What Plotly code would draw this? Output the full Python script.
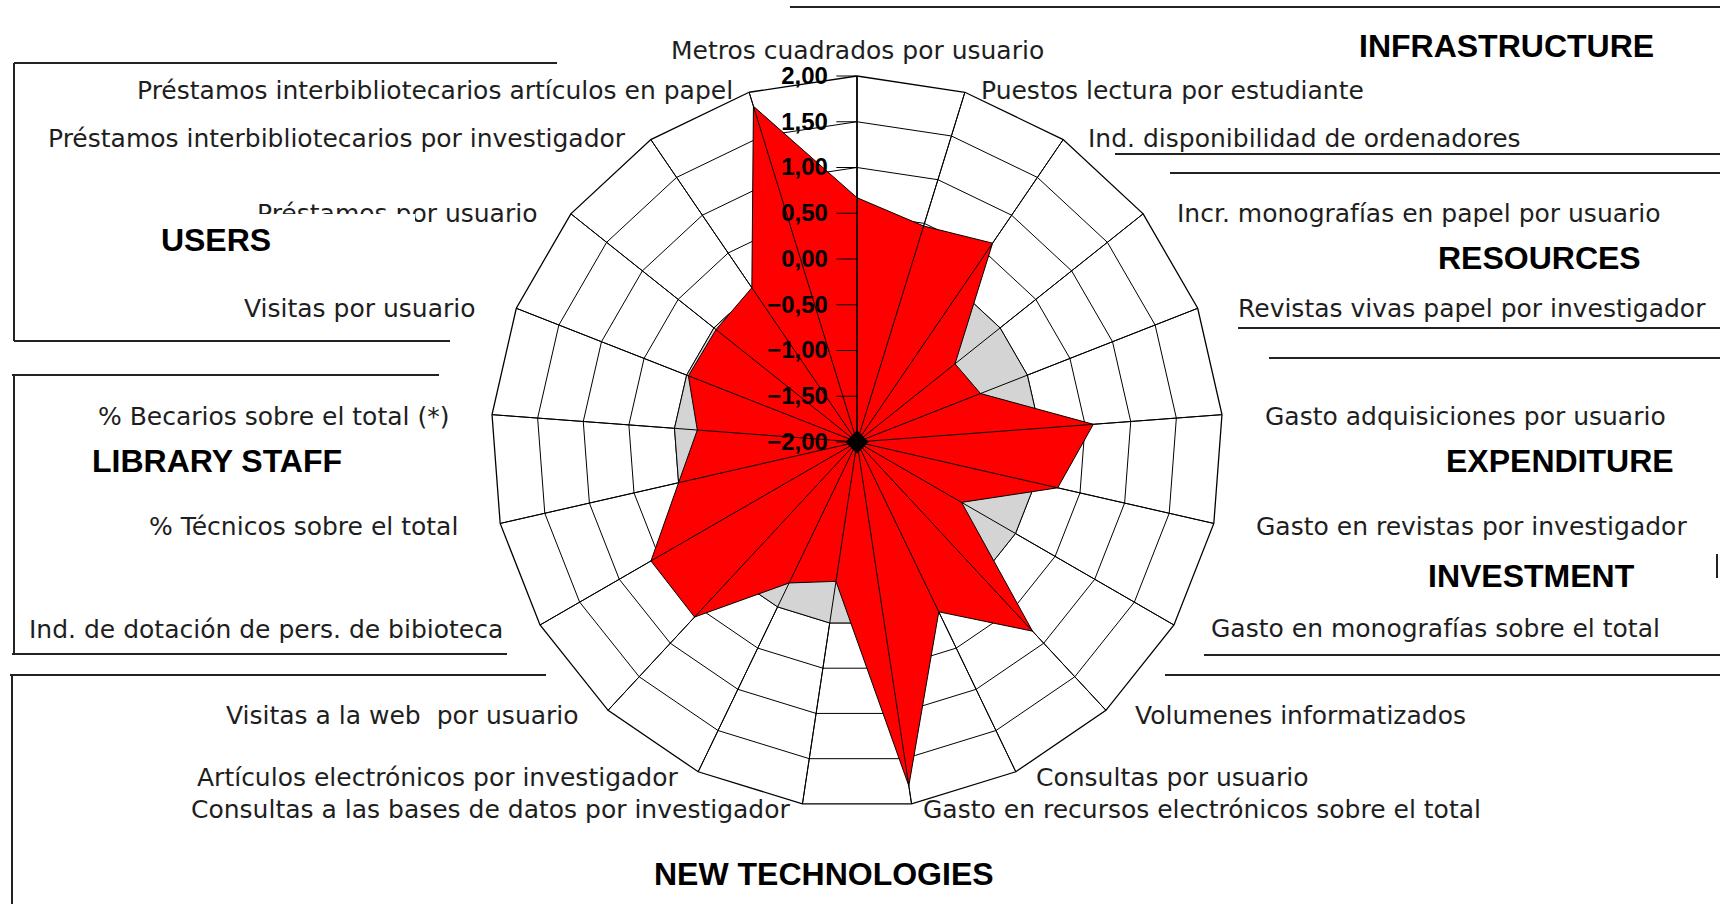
import math
import plotly.graph_objects as go

# ---------------- data ----------------
categories = [
    "Metros cuadrados por usuario",
    "Puestos lectura por estudiante",
    "Ind. disponibilidad de ordenadores",
    "Incr. monografías en papel por usuario",
    "Revistas vivas papel por investigador",
    "Gasto adquisiciones por usuario",
    "Gasto en revistas por investigador",
    "Gasto en monografías sobre el total",
    "Volumenes informatizados",
    "Consultas por usuario",
    "Gasto en recursos electrónicos sobre el total",
    "Consultas a las bases de datos por investigador",
    "Artículos electrónicos por investigador",
    "Visitas a la web  por usuario",
    "Ind. de dotación de pers. de bibioteca",
    "% Técnicos sobre el total",
    "% Becarios sobre el total (*)",
    "Visitas por usuario",
    "Préstamos por usuario",
    "Préstamos interbibliotecarios por investigador",
    "Préstamos interbibliotecarios artículos en papel",
]
library_values = [0.67, 0.47, 0.63, -0.63, -0.55, 0.59, 0.25, -0.68, 0.82, 0.06,
                  1.80, -0.46, -0.29, 0.61, 0.60, 0.00, -0.25, -0.02, -0.03, 0.04, 1.84]
reference_values = [0.0, 0.0, 0.0, 0.0, 0.0, 0.0, 0.0, 0.0, 0.0, 0.0, 0.0,
                    0.0, 0.0, 0.0, 0.0, 0.0, 0.0, 0.0, 0.0, 0.0, 0.0]
radial_ticks = [-2.0, -1.5, -1.0, -0.5, 0.0, 0.5, 1.0, 1.5, 2.0]
section_titles = ["INFRASTRUCTURE", "RESOURCES", "EXPENDITURE", "INVESTMENT",
                  "USERS", "LIBRARY STAFF", "NEW TECHNOLOGIES"]

# ---------------- geometry helpers ----------------
W, H = 1720, 904
CX, CY, R = 857, 442, 366          # polar centre / radius in pixels
LRX, LRY = 390, 370                # label placement ellipse


def px(x):
    return x / W


def py(y):
    return 1 - y / H


theta_closed = categories + categories[:1]

fig = go.Figure()

# reference (zero) polygon, dotted-grey area
ref_kwargs = dict(
    r=reference_values + reference_values[:1], theta=theta_closed,
    mode="lines", fill="toself",
    line=dict(color="black", width=1),
    subplot="polar", showlegend=False, hoverinfo="skip",
)
try:
    ref_trace = go.Scatterpolar(
        fillpattern=dict(shape=".", fgcolor="#333333", bgcolor="rgba(255,255,255,0)",
                         size=6, solidity=0.3),
        fillcolor="rgba(255,255,255,0)", **ref_kwargs)
except Exception:
    ref_trace = go.Scatterpolar(fillcolor="#d4d4d4", **ref_kwargs)
fig.add_trace(ref_trace)

# library series
fig.add_trace(go.Scatterpolar(
    r=library_values + library_values[:1], theta=theta_closed,
    mode="lines", fill="toself", fillcolor="#ff0000",
    line=dict(color="black", width=1),
    subplot="polar", showlegend=False,
))

# spokes drawn over the fill
sp_r, sp_t = [], []
for c in categories:
    sp_r += [radial_ticks[0], radial_ticks[-1], None]
    sp_t += [c, c, None]
fig.add_trace(go.Scatterpolar(
    r=sp_r, theta=sp_t, mode="lines", line=dict(color="black", width=1),
    subplot="polar", showlegend=False, hoverinfo="skip", connectgaps=False,
))

# centre marker on overlay subplot
fig.add_trace(go.Scatterpolar(
    r=[radial_ticks[0]], theta=[categories[0]], mode="markers",
    marker=dict(symbol="diamond", size=18, color="black"),
    subplot="polar2", showlegend=False, hoverinfo="skip",
))

dom_x = [px(CX - R), px(CX + R)]
dom_y = [py(CY + R), py(CY - R)]

fig.update_layout(
    width=W, height=H,
    margin=dict(l=0, r=0, t=0, b=0),
    paper_bgcolor="white",
    separators=",.",
    polar=dict(
        domain=dict(x=dom_x, y=dom_y),
        bgcolor="white",
        gridshape="linear",
        angularaxis=dict(
            type="category", categoryarray=categories,
            rotation=90, direction="clockwise",
            showline=True, linecolor="black", linewidth=1.3,
            gridcolor="black", gridwidth=1.3, ticks="",
            showticklabels=False,
        ),
        radialaxis=dict(
            range=[radial_ticks[0], radial_ticks[-1]], tickvals=radial_ticks,
            showticklabels=False, ticks="", showline=False,
            gridcolor="black", gridwidth=1.3, angle=90,
        ),
    ),
    polar2=dict(
        domain=dict(x=dom_x, y=dom_y),
        bgcolor="rgba(0,0,0,0)",
        angularaxis=dict(
            type="category", categoryarray=categories,
            rotation=90, direction="clockwise",
            visible=False,
        ),
        radialaxis=dict(
            range=[radial_ticks[0], radial_ticks[-1]], tickvals=radial_ticks,
            tickformat=".2f", angle=90, side="counterclockwise",
            layer="above traces",
            showgrid=False, showline=True, linecolor="black", linewidth=1.3,
            ticks="outside", ticklen=20, tickcolor="black", tickwidth=1.3,
            tickangle=90,
            tickfont=dict(family="Liberation Sans", size=24, color="black", weight="bold"),
        ),
    ),
)

# category labels placed around the web
label_font = dict(family="DejaVu Sans", size=25, color="#1e1e1e")
n = len(categories)
for i, lab in enumerate(categories):
    th = math.radians(i * 360.0 / n)
    s, c = math.sin(th), math.cos(th)
    if abs(s) < 1e-6:
        fig.add_annotation(text=lab, x=px(CX), y=py(CY - R - 9),
                           xref="paper", yref="paper", showarrow=False,
                           xanchor="center", yanchor="bottom", font=label_font)
    else:
        gap = 6 + 11 * s * s
        x = CX + LRX * s + (gap if s > 0 else -gap)
        y = CY + 2 - LRY * c
        fig.add_annotation(text=lab, x=px(x), y=py(y),
                           xref="paper", yref="paper", showarrow=False,
                           xanchor="left" if s > 0 else "right", yanchor="middle",
                           font=label_font)

# section frames (decorative lines)
frame_lines = [
    (790, 7, 1720, 7),
    (1115, 154, 1720, 154), (1170, 173, 1720, 173),
    (1238, 328, 1720, 328), (1269, 358, 1720, 358),
    (1204, 655, 1720, 655), (1165, 675, 1720, 675),
    (1717, 554, 1717, 578),
    # USERS box
    (14, 63, 557, 63), (14, 63, 14, 341), (14, 341, 450, 341),
    # LIBRARY STAFF box
    (12, 375, 439, 375), (14, 375, 14, 654), (12, 654, 507, 654),
    # NEW TECHNOLOGIES box
    (10, 675, 546, 675), (12, 675, 12, 904),
]
for x0, y0, x1, y1 in frame_lines:
    fig.add_shape(type="line", xref="paper", yref="paper",
                  x0=px(x0), y0=py(y0), x1=px(x1), y1=py(y1),
                  line=dict(color="#222222", width=2), layer="above")

# section titles (USERS has an opaque white box that hides part of a label)
title_pos = [(1506, 46), (1539, 258), (1560, 461), (1531, 576),
             (216, 240), (217, 461), (824, 874)]
title_font = dict(family="Liberation Sans", size=32, color="black", weight="bold")
for t, (x, y) in zip(section_titles, title_pos):
    extra = {}
    if t == "USERS":
        extra = dict(bgcolor="white", width=398, height=52, borderpad=0,
                     borderwidth=0, align="center", valign="middle")
    fig.add_annotation(text=t, x=px(x), y=py(y), xref="paper", yref="paper",
                       showarrow=False, xanchor="center", yanchor="middle",
                       font=title_font, **extra)

fig.write_html("out.html",
               config={"displayModeBar": False},
               post_script="document.body.style.margin='0px';"
                           "document.body.style.overflow='hidden';")
